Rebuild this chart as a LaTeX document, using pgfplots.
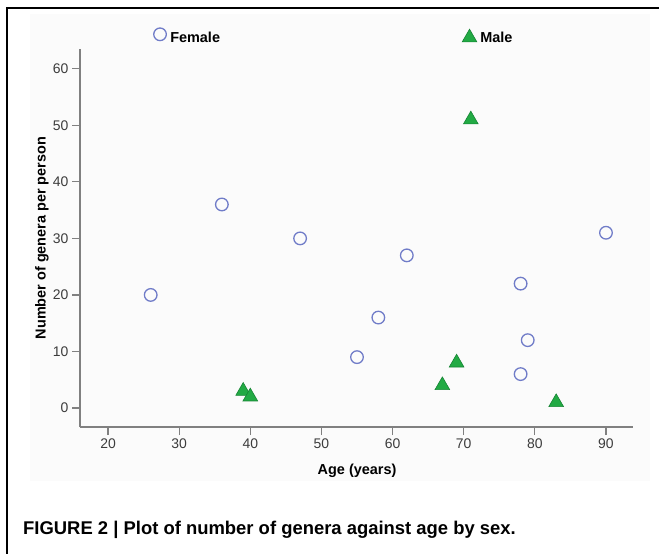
\documentclass[border=0pt]{standalone}
\usepackage{fontspec}
\setmainfont{Liberation Sans}
\usepackage{pgfplots}
\pgfplotsset{compat=1.18}

\definecolor{fem}{RGB}{112,124,200}
\definecolor{malefill}{RGB}{34,170,68}
\definecolor{maledraw}{RGB}{22,132,52}
\definecolor{axgray}{RGB}{128,128,128}
\definecolor{ticktext}{RGB}{60,60,60}

\begin{document}
\begin{tikzpicture}[x=1bp,y=1bp]
\useasboundingbox (0,0) rectangle (659,-554);
\fill[black!1.5] (30,-14) rectangle (650,-481);
\draw[line width=1.3bp] (7,-554) -- (7,-8) -- (659,-8);
\node[anchor=base west, inner sep=0, font=\fontsize{18.5}{22}\selectfont\bfseries]
  at (23,-534) {FIGURE 2 | Plot of number of genera against age by sex.};
\begin{axis}[
  at={(80bp,-427bp)}, anchor=south west,
  scale only axis, width=553bp, height=378bp,
  xmin=16.06, xmax=93.8, ymin=-3.36, ymax=63.5,
  axis lines=left, axis line style={-, draw=axgray, line width=2.2bp},
  xtick={20,30,...,90}, ytick={0,10,...,60},
  tick align=outside, major tick length=8bp,
  tick style={draw=axgray, line width=1.2bp},
  ticklabel style={font=\fontsize{14}{16}\selectfont, text=ticktext},
  /pgf/number format/assume math mode=true,
  xlabel={Age (years)}, ylabel={Number of genera per person},
  every axis x label/.style={at={(axis description cs:0.501,-0.116)}, anchor=center,
    font=\fontsize{14.5}{17}\selectfont\bfseries},
  every axis y label/.style={at={(axis description cs:-0.0687,0.5)}, anchor=center, rotate=90,
    font=\fontsize{14.5}{17}\selectfont\bfseries},
  clip=false,
]
% Female
\addplot[only marks, mark=o, mark size=6.3bp, mark options={draw=fem, line width=1.3bp}]
  coordinates {(26,20) (36,36) (47,30) (55,9) (58,16) (62,27) (78,22) (79,12) (78,6) (90,31)};
% Male
\addplot[only marks, mark=triangle*, mark size=8.5bp, mark options={fill=malefill, draw=maledraw, line width=0.6bp}]
  coordinates {(39,3) (40,2) (67,4) (69,8) (71,51) (83,1)};
% legend entries
\addplot[only marks, mark=o, mark size=6.3bp, mark options={draw=fem, line width=1.3bp}]
  coordinates {(27.31,66.1)};
\addplot[only marks, mark=triangle*, mark size=8.5bp, mark options={fill=malefill, draw=maledraw, line width=0.6bp}]
  coordinates {(70.82,65.5)};
\node[anchor=base west, inner sep=0, font=\fontsize{14.5}{17}\selectfont\bfseries] at (axis cs:28.72,64.6) {Female};
\node[anchor=base west, inner sep=0, font=\fontsize{14.5}{17}\selectfont\bfseries] at (axis cs:72.32,64.6) {Male};
\end{axis}
\end{tikzpicture}
\end{document}
